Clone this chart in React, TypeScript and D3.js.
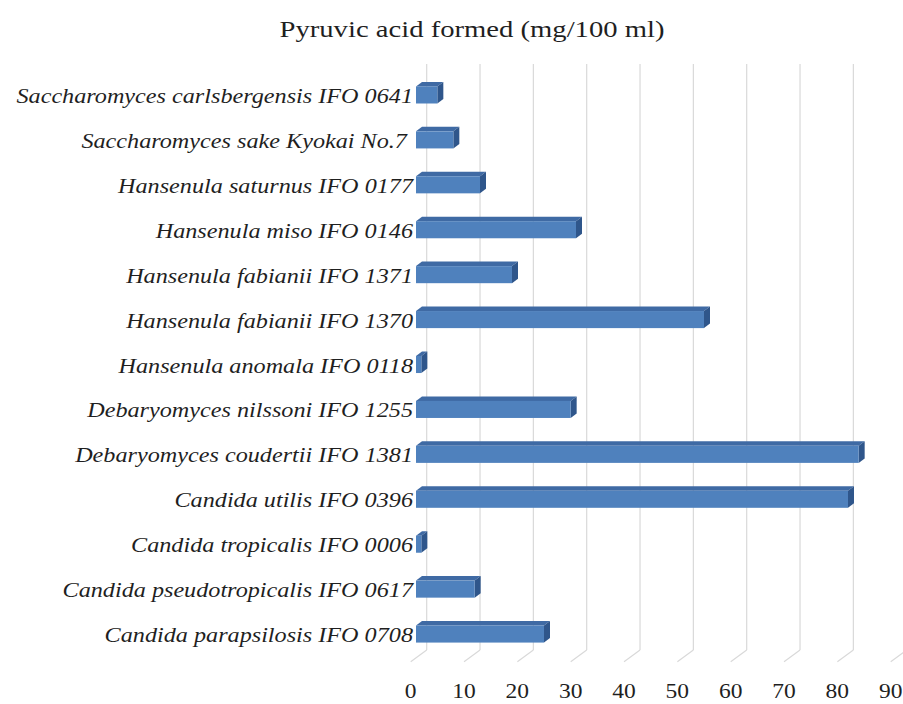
import { useEffect, useRef } from 'react';
import * as d3 from 'd3';

// strains, top to bottom as drawn
const strains = [
  "Saccharomyces carlsbergensis IFO 0641",
  "Saccharomyces sake Kyokai No.7 ",
  "Hansenula saturnus IFO 0177",
  "Hansenula miso IFO 0146",
  "Hansenula fabianii IFO 1371",
  "Hansenula fabianii IFO 1370",
  "Hansenula anomala IFO 0118",
  "Debaryomyces nilssoni IFO 1255",
  "Debaryomyces coudertii IFO 1381",
  "Candida utilis IFO 0396",
  "Candida tropicalis IFO 0006",
  "Candida pseudotropicalis IFO 0617",
  "Candida parapsilosis IFO 0708",
];

// pyruvic acid formed (mg/100 ml)
const pyruvic = [4, 7, 12, 30, 18, 54, 1, 29, 83, 81, 1, 11, 24];

const ticks = [0, 10, 20, 30, 40, 50, 60, 70, 80, 90];

const title = "Pyruvic acid formed (mg/100 ml)";

const App = () => {
  const ref = useRef<SVGSVGElement>(null);

  useEffect(() => {
    const svg = d3.select(ref.current);
    svg.selectAll("*").remove();

    // front plane of the bars
    const x = d3.scaleLinear().domain([0, 90]).range([416, 896]);
    const y = d3.scaleBand()
      .domain(strains)
      .range([72.5, 656.5])
      .paddingInner(0.62)
      .paddingOuter(0.31);

    // 3d offsets
    const bdx = 6, bdy = -4.5;      // bar depth
    const wdx = 10.7;               // back wall relative to bar front
    const fdx = -5.3, fdy = 11.7;   // front floor edge relative to bar front x
    const wallTop = 64, wallBottom = 650;

    const grid = svg.append("g");
    grid.selectAll("line.v")
      .data(ticks)
      .enter()
      .append("line")
      .attr("x1", (d) => x(d) + wdx)
      .attr("x2", (d) => x(d) + wdx)
      .attr("y1", wallTop)
      .attr("y2", wallBottom)
      .attr("stroke", "#d9d9d9")
      .attr("stroke-width", 1.2);
    grid.selectAll("line.f")
      .data(ticks)
      .enter()
      .append("line")
      .attr("x1", (d) => x(d) + wdx)
      .attr("x2", (d) => x(d) + fdx)
      .attr("y1", wallBottom)
      .attr("y2", wallBottom + fdy)
      .attr("stroke", "#d9d9d9")
      .attr("stroke-width", 1.2);

    const rows = strains.map((s, i) => ({ s, v: pyruvic[i] }));

    const bars = svg.append("g")
      .selectAll("g")
      .data(rows)
      .enter()
      .append("g");

    bars.append("polygon")
      .attr("points", (d) => {
        const t = y(d.s) || 0;
        const x0 = x(0), x1 = x(d.v);
        return [[x0, t], [x1, t], [x1 + bdx, t + bdy], [x0 + bdx, t + bdy]].join(" ");
      })
      .attr("fill", "#3f6aa4");

    bars.append("polygon")
      .attr("points", (d) => {
        const t = y(d.s) || 0;
        const b = t + y.bandwidth();
        const x1 = x(d.v);
        return [[x1, t], [x1 + bdx, t + bdy], [x1 + bdx, b + bdy], [x1, b]].join(" ");
      })
      .attr("fill", "#2f568b");

    bars.append("rect")
      .attr("x", x(0))
      .attr("y", (d) => y(d.s) || 0)
      .attr("width", (d) => x(d.v) - x(0))
      .attr("height", y.bandwidth())
      .attr("fill", "#4f81bd");

    // category labels
    svg.append("g")
      .selectAll("text")
      .data(strains)
      .enter()
      .append("text")
      .attr("transform", (d) => "translate(413," + ((y(d) || 0) + y.bandwidth() / 2 + 8) + ") scale(1.21,1)")
      .attr("text-anchor", "end")
      .attr("font-family", "Liberation Serif, serif")
      .attr("font-style", "italic")
      .attr("font-size", 20)
      .attr("fill", "#1f1f1f")
      .style("white-space", "pre")
      .text((d) => d);

    // value axis labels
    svg.append("g")
      .selectAll("text")
      .data(ticks)
      .enter()
      .append("text")
      .attr("transform", (d) => "translate(" + (x(d) + fdx) + ",698) scale(1.12,1)")
      .attr("text-anchor", "middle")
      .attr("font-family", "Liberation Serif, serif")
      .attr("font-size", 21)
      .attr("fill", "#1f1f1f")
      .text((d) => d);

    svg.append("text")
      .attr("x", 472)
      .attr("y", 37)
      .attr("text-anchor", "middle")
      .attr("font-family", "Liberation Serif, serif")
      .attr("font-size", 23)
      .attr("fill", "#1f1f1f")
      .attr("textLength", 385)
      .attr("lengthAdjust", "spacingAndGlyphs")
      .text(title);
  }, []);

  return (
    <svg
      ref={ref}
      width={903}
      height={704}
      style={{ position: "absolute", left: 0, top: 0, background: "#fff" }}
    ></svg>
  );
};

export default App;
